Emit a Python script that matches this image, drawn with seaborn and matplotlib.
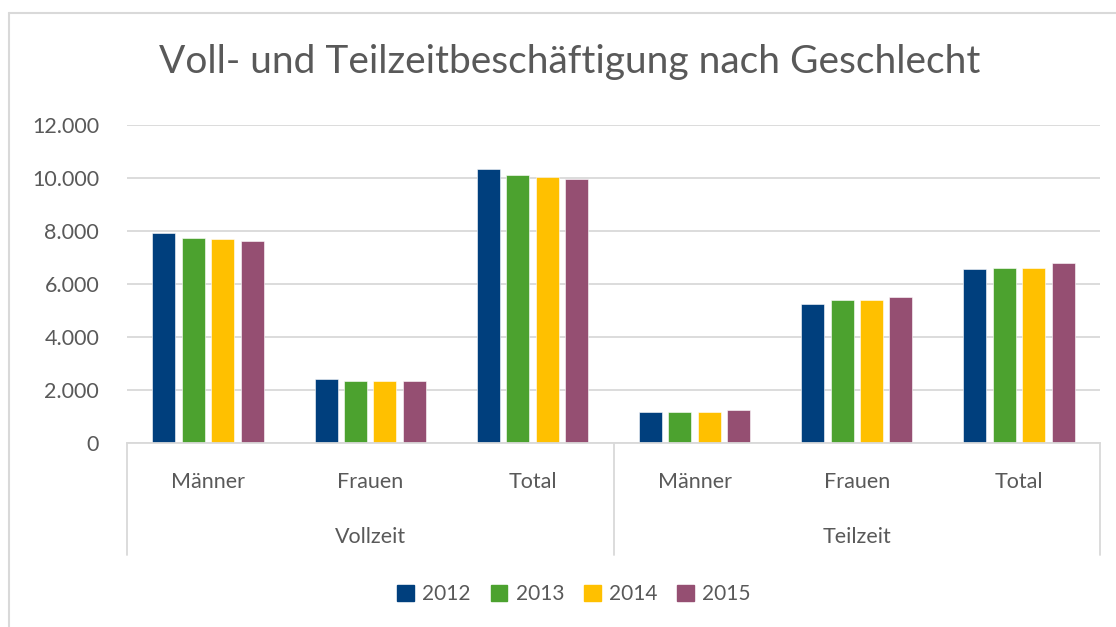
import pandas as pd
import matplotlib
matplotlib.use("Agg")
import matplotlib.pyplot as plt
from matplotlib.lines import Line2D
from matplotlib.ticker import FuncFormatter
import seaborn as sns

# values
groups = ["Vollzeit", "Teilzeit"]
subgroups = ["Männer", "Frauen", "Total"]
years = ["2012", "2013", "2014", "2015"]
colors = ["#003F7D", "#4CA22F", "#FFC000", "#954F72"]

vals_2012 = [7930, 2400, 10340, 1160, 5250, 6550]
vals_2013 = [7750, 2330, 10100, 1160, 5390, 6600]
vals_2014 = [7690, 2330, 10050, 1175, 5390, 6610]
vals_2015 = [7610, 2330, 9960, 1250, 5525, 6790]

TXT = "#595959"
GRID = "#D9D9D9"

# long table for seaborn
cats = [g + "|" + s for g in groups for s in subgroups]
rows = []
for year, vals in zip(years, [vals_2012, vals_2013, vals_2014, vals_2015]):
    for c, v in zip(cats, vals):
        rows.append({"cat": c, "year": year, "value": v})
df = pd.DataFrame(rows)

sns.set_style("white")
plt.rcParams["font.family"] = ["Lato", "DejaVu Sans"]

W, H = 1116, 627
fig = plt.figure(figsize=(W / 100, H / 100), dpi=100)

# plot area in pixels: x 127..1100, y 125..443
ax = fig.add_axes([127 / W, (H - 443) / H, (1100 - 127) / W, (443 - 125) / H])

sns.barplot(data=df, x="cat", y="value", hue="year", order=cats,
            hue_order=years, palette=colors, width=0.727, gap=0.22,
            edgecolor="white", linewidth=0.4, saturation=1, ax=ax)

ax.set_ylim(0, 12000)
ax.set_xlim(-0.5, 5.5)
ax.set_yticks(range(0, 12001, 2000))
ax.yaxis.set_major_formatter(FuncFormatter(lambda v, p: f"{int(v):,}".replace(",", ".")))
ax.yaxis.grid(True, color=GRID, linewidth=1.3)
ax.set_axisbelow(True)
ax.tick_params(axis="y", length=0, pad=20, labelsize=15.5, labelcolor=TXT)
ax.set_xticks([])
ax.set_xlabel("")
ax.set_ylabel("")
for s in ["top", "right", "left"]:
    ax.spines[s].set_visible(False)
ax.spines["bottom"].set_color(GRID)
ax.spines["bottom"].set_linewidth(1.3)
ax.get_legend().remove()

# two-level category axis
xt = ax.get_xaxis_transform()
for i, c in enumerate(cats):
    ax.text(i, -0.123, c.split("|")[1], transform=xt, ha="center", va="center",
            fontsize=15.5, color=TXT)
for j, g in enumerate(groups):
    ax.text(j * 3 + 1, -0.296, g, transform=xt, ha="center", va="center",
            fontsize=15.5, color=TXT)
for x in [-0.5, 2.5, 5.5]:
    ax.add_line(Line2D([x, x], [0, -112 / 318], transform=xt, color=GRID,
                       linewidth=1.3, clip_on=False))

# legend
handles = [plt.Rectangle((0, 0), 1, 1, color=c) for c in colors]
fig.legend(handles, years, loc="center", bbox_to_anchor=(574 / W, 1 - 594 / H),
           ncol=4, frameon=False, fontsize=15, labelcolor=TXT,
           handlelength=0.8, handleheight=0.8, handletextpad=0.4,
           columnspacing=0.95)

fig.text(570 / W, 1 - 62 / H, "Voll- und Teilzeitbeschäftigung nach Geschlecht",
         ha="center", va="center", fontsize=28, color=TXT)

# chart border (top and left visible)
fig.add_artist(Line2D([9 / W, 1], [1 - 13 / H, 1 - 13 / H], color=GRID, linewidth=1.5))
fig.add_artist(Line2D([9 / W, 9 / W], [0, 1 - 13 / H], color=GRID, linewidth=1.5))

fig.savefig("out.png", dpi=100, facecolor="white")
